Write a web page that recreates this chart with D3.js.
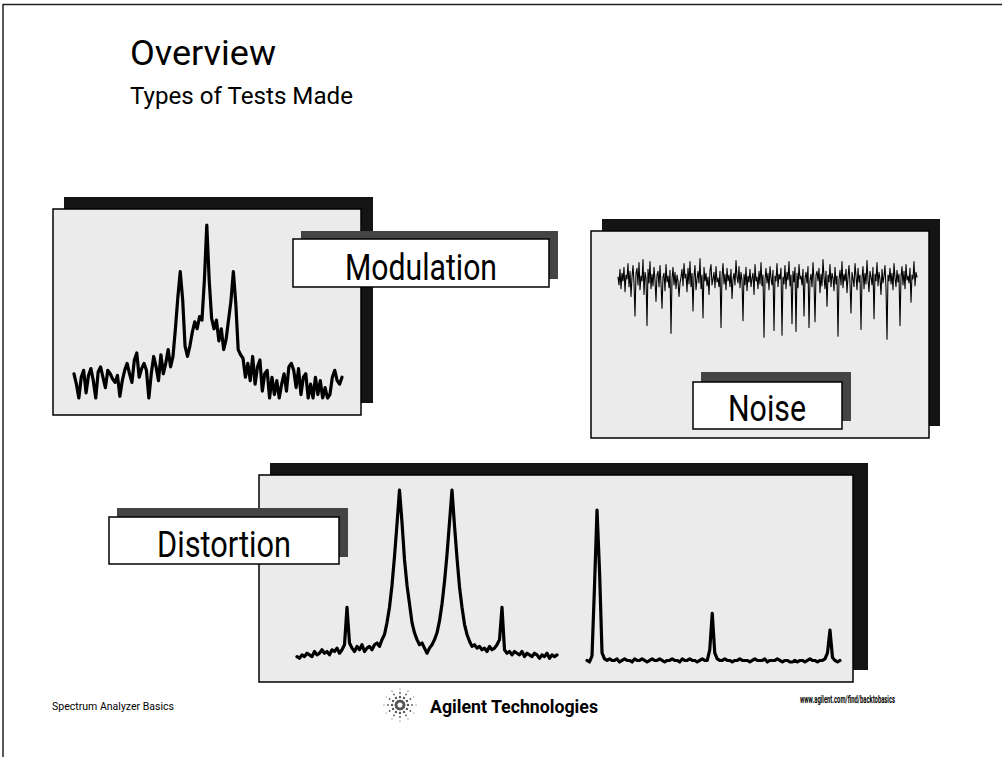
<!DOCTYPE html>
<html>
<head>
<meta charset="utf-8">
<script src="https://cdn.jsdelivr.net/npm/d3@7"></script>
<style>
  body { margin: 0; background: #fff; }
  svg { display: block; }
  text { font-family: "Roboto", "Liberation Sans", sans-serif; fill: #000; }
</style>
</head>
<body>
<svg id="chart" width="1002" height="757"></svg>
<script>
// traces (relative level 0..100 in each screen)
var modulation = [14, 8, 0, 12, 16, 3, 13, 17, 10, 0, 15, 18, 12, 6, 16, 14, 11, 9, 13, 1,
  10, 16, 20, 14, 9, 22, 26, 12, 17, 20, 16, 0, 14, 24, 18, 10, 25, 14, 20, 28,
  18, 24, 40, 58, 73, 57, 30, 24, 30, 38, 44, 40, 47,
  45, 68, 100, 68, 46,
  40, 45, 33, 40, 28, 34, 45, 56, 73, 55, 28,
  25, 23, 12, 20, 10, 24, 8, 18, 22, 4, 14, 16, 0, 12, 2, 10, 0, 8, 14, 4,
  18, 20, 16, 6, 17, 2, 12, 14, 0, 8, 0, 12, 2, 10, 0, 6, 0, 2, 12, 16, 10, 8, 12];

var noise = [70, 62, 78, 58, 74, 66, 80, 55, 72, 68, 84, 60, 76, 50, 70, 82, 64, 30, 74, 79,
  62, 85, 57, 71, 66, 88, 52, 75, 69, 20, 78, 64, 86, 58, 73, 61, 80, 67, 45, 72,
  76, 60, 82, 63, 38, 70, 74, 56, 83, 65, 71, 59, 77, 12, 68, 80, 62, 75, 58, 72,
  66, 50, 64, 70, 78, 61, 84, 69, 73, 55, 79, 63, 86, 60, 74, 35, 71, 82, 57, 68,
  76, 64, 89, 58, 72, 28, 80, 66, 74, 61, 70, 52, 77, 83, 62, 68, 75, 59, 81, 65,
  69, 60, 76, 18, 70, 84, 63, 73, 57, 79, 66, 72, 60, 78, 48, 68, 74, 62, 87, 70,
  64, 81, 59, 75, 67, 25, 73, 62, 80, 56, 71, 65, 78, 60, 69, 74, 52, 83, 66, 70,
  58, 76, 63, 85, 61, 72, 8, 67, 79, 64, 74, 57, 81, 69, 62, 77, 15, 71, 66, 84,
  60, 73, 68, 79, 10, 70, 63, 82, 58, 75, 67, 86, 61, 72, 22, 76, 65, 80, 14, 74,
  59, 83, 68, 71, 62, 78, 30, 69, 75, 64, 81, 18, 67, 73, 60, 85, 66, 24, 72, 76,
  66, 79, 54, 73, 61, 88, 70, 58, 76, 40, 72, 65, 83, 60, 74, 69, 56, 80, 63, 71,
  9, 67, 77, 62, 86, 59, 73, 66, 78, 54, 70, 82, 64, 33, 75, 68, 60, 84, 71, 57,
  79, 65, 72, 16, 69, 81, 58, 74, 63, 87, 67, 55, 76, 70, 62, 80, 27, 73, 66, 85,
  61, 75, 68, 52, 78, 64, 71, 82, 59, 6, 72, 66, 79, 63, 74, 57, 84, 69, 60, 77,
  65, 73, 20, 70, 81, 62, 76, 58, 83, 67, 71, 64, 79, 44, 72, 68, 86, 61, 75, 70];

var twoTone = [2, 1, 3, 2, 4, 3, 2, 5, 3, 4, 6, 4, 5, 3, 6, 5, 7, 4, 6,
  9, 31, 10,
  7, 5, 8, 6, 9, 5, 7, 8, 6,
  9, 10, 8, 12, 15, 22, 31, 44, 61, 80,
  100,
  81, 59, 44, 33, 22, 16, 12, 9, 10,
  7, 4,
  7, 9, 12, 16, 23, 33, 46, 62, 81,
  100,
  79, 60, 43, 31, 21, 15, 11, 8, 9, 7,
  8, 6, 7, 5, 8, 6, 7, 9,
  12, 31, 6,
  4, 5, 3, 5, 4, 3, 5, 2, 4, 3, 2, 4, 3, 1, 3, 2, 4, 1, 3, 2, 3];

var harmonics = [1, 0, 4, 50, 100, 60, 6, 2,
  1, 2, 1, 1, 2, 0, 1, 2, 1, 1, 0, 2, 1, 1, 2, 1, 0, 1, 2, 1, 1, 2, 1, 0, 1, 1, 2, 1, 1, 0, 2, 1, 1, 2, 1, 1, 0, 1, 2, 1, 1,
  8, 32, 6,
  2, 1, 1, 2, 1, 1, 0, 1, 1, 2, 1, 1, 1, 0, 1, 2, 1, 1, 1, 2, 0, 1, 1, 1, 2, 1, 0, 1, 1, 0, 0, 1, 0, 1, 1, 0, 1, 2, 1, 1, 0, 1, 1, 2,
  6, 21, 3, 1, 0, 1];

var title = "Overview";
var subtitle = "Types of Tests Made";
var testNames = ["Modulation", "Noise", "Distortion"];
var footerLeft = "Spectrum Analyzer Basics";
var footerBrand = "Agilent Technologies";
var footerUrl = "www.agilent.com/find/backtobasics";

var svg = d3.select("#chart");

// page frame
svg.append("line").attr("x1", 3).attr("y1", 4.5).attr("x2", 1002).attr("y2", 4.5)
  .attr("stroke", "#222").attr("stroke-width", 1.5);
svg.append("line").attr("x1", 3).attr("y1", 4).attr("x2", 3).attr("y2", 757)
  .attr("stroke", "#222").attr("stroke-width", 1.5);

svg.append("text").attr("x", 130).attr("y", 65).attr("font-size", 35)
  .attr("textLength", 146).attr("lengthAdjust", "spacingAndGlyphs").text(title);
svg.append("text").attr("x", 130).attr("y", 104).attr("font-size", 23.5)
  .attr("textLength", 223).attr("lengthAdjust", "spacingAndGlyphs").text(subtitle);

function screen(x, y, w, h, sx, sy, sw, sh) {
  svg.append("rect").attr("x", sx).attr("y", sy).attr("width", sw).attr("height", sh)
    .attr("fill", "#141414");
  svg.append("rect").attr("x", x).attr("y", y).attr("width", w).attr("height", h)
    .attr("fill", "#ebebeb").attr("stroke", "#000").attr("stroke-width", 1.5);
}

function label(name, x, y, w, h, sx, sy, sw, sh, cx, base, len) {
  svg.append("rect").attr("x", sx).attr("y", sy).attr("width", sw).attr("height", sh)
    .attr("fill", "#444");
  svg.append("rect").attr("x", x).attr("y", y).attr("width", w).attr("height", h)
    .attr("fill", "#fff").attr("stroke", "#000").attr("stroke-width", 1.5);
  svg.append("text").attr("x", cx).attr("y", base).attr("font-size", 37)
    .attr("text-anchor", "middle")
    .attr("textLength", len).attr("lengthAdjust", "spacingAndGlyphs").text(name);
}

function trace(data, x0, x1, yBottom, yTop, width) {
  var x = d3.scaleLinear().domain([0, data.length - 1]).range([x0, x1]);
  var y = d3.scaleLinear().domain([0, 100]).range([yBottom, yTop]);
  var line = d3.line().x(function (d, i) { return x(i); }).y(function (d) { return y(d); });
  svg.append("path").datum(data).attr("d", line)
    .attr("fill", "none").attr("stroke", "#000").attr("stroke-width", width)
    .attr("stroke-linejoin", "round").attr("stroke-linecap", "round");
}

// modulation
screen(53, 209, 308, 206, 64, 197, 309, 206);
trace(modulation, 74, 342, 398, 225, 3.2);
label(testNames[0], 293, 239, 256, 48, 301, 231, 257, 48, 421, 280, 152);

// noise
screen(591, 231, 338, 207, 602, 219, 338, 207);
trace(noise, 618, 917, 345, 248, 1.1);
label(testNames[1], 693, 382, 149, 47, 701, 372, 150, 49, 767, 421, 78);

// distortion
screen(259, 475, 594, 207, 270, 463, 598, 207);
trace(twoTone, 297, 557, 660, 490, 3.2);
trace(harmonics, 587, 840, 662, 510, 3.2);
label(testNames[2], 109, 517, 230, 47, 117, 508, 231, 49, 224, 557, 134);

// footer
svg.append("text").attr("x", 52).attr("y", 710).attr("font-size", 11)
  .attr("textLength", 122).attr("lengthAdjust", "spacingAndGlyphs").text(footerLeft);
svg.append("text").attr("x", 430).attr("y", 713).attr("font-size", 19).attr("font-weight", "bold")
  .attr("textLength", 168).attr("lengthAdjust", "spacingAndGlyphs").text(footerBrand);
svg.append("text").attr("x", 800).attr("y", 703).attr("font-size", 10).attr("font-weight", "bold")
  .attr("textLength", 95).attr("lengthAdjust", "spacingAndGlyphs").text(footerUrl);

// spark logo
var spark = svg.append("g").attr("transform", "translate(400,705)");
d3.range(12).forEach(function (k) {
  var a = k * Math.PI / 6;
  [4, 8, 12, 16].forEach(function (r, j) {
    spark.append("circle").attr("cx", r * Math.cos(a)).attr("cy", r * Math.sin(a))
      .attr("r", [1.6, 1.2, 0.9, 0.6][j]).attr("fill", "#555");
  });
});
</script>
</body>
</html>
